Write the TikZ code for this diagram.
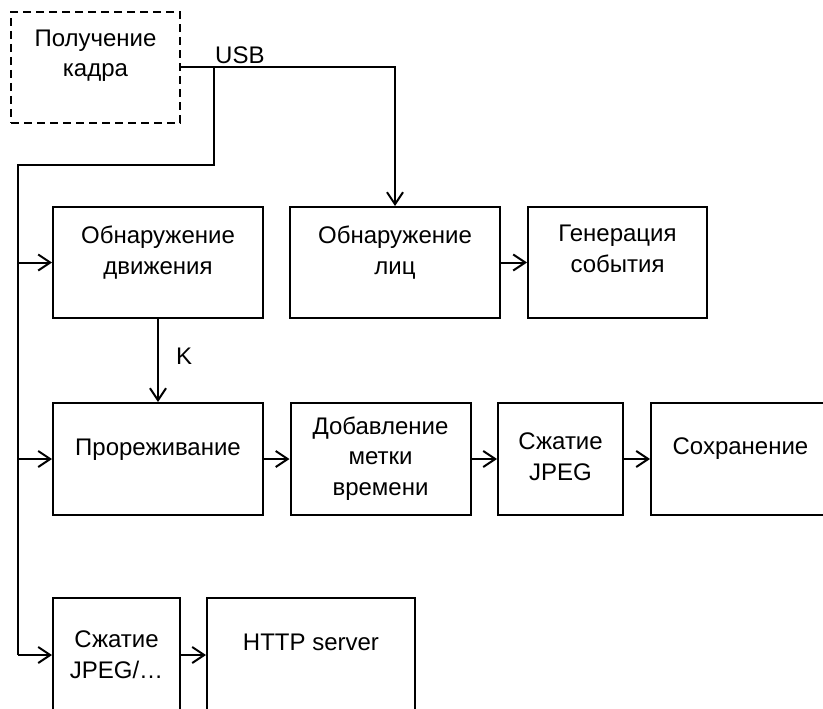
\documentclass[tikz,border=0pt]{standalone}
\usepackage{fontspec}
\setmainfont{Liberation Sans}
\usetikzlibrary{arrows.meta}
\tikzstyle{block}=[draw,line width=2pt,inner sep=0pt,minimum height=112pt]
\tikzstyle{txt}=[align=center,anchor=base,inner sep=0pt,font=\fontsize{24}{30.5}\selectfont]
\tikzstyle{wire}=[line width=2pt,>={Straight Barb[length=12pt,width=16pt]}]

\begin{document}
\begin{tikzpicture}[x=1pt,y=-1pt]
\clip (0,0) rectangle (823,709);
\node[block,dashed,dash pattern=on 8pt off 5pt,minimum width=169pt,minimum height=111pt] at (95.5,67.5) (grab) {};
\node[block,minimum width=210pt,minimum height=111pt] at (158,262.5) (motion) {};
\node[block,minimum width=210pt,minimum height=111pt] at (395,262.5) (faces) {};
\node[block,minimum width=179pt,minimum height=111pt] at (617.5,262.5) (event) {};
\node[block,minimum width=210pt] at (158,459) (thin) {};
\node[block,minimum width=180pt] at (380.5,459) (stamp) {};
\node[block,minimum width=125pt] at (560.5,459) (jpeg) {};
\node[block,minimum width=179pt] at (740.5,459) (save) {};
\node[block,minimum width=127pt,minimum height=114pt] at (116.5,655) (jpegb) {};
\node[block,minimum width=208pt,minimum height=114pt] at (311,655) (http) {};
% texts (base = last line)
\node[txt] at (95.5,77) (grabtxt) {Получение\\кадра};
\node[txt] at (158,274) (motiontxt) {Обнаружение\\движения};
\node[txt] at (395,274) (facestxt) {Обнаружение\\лиц};
\node[txt] at (617.5,272) (eventtxt) {Генерация\\события};
\node[txt] at (158,455) (thintxt) {Прореживание};
\node[txt] at (380.5,495) (stamptxt) {Добавление\\метки\\времени};
\node[txt] at (560.5,480) (jpegtxt) {Сжатие\\JPEG};
\node[txt] at (740.5,454) (savetxt) {Сохранение};
\node[txt] at (116.5,678) (jpegbtxt) {Сжатие\\JPEG/…};
\node[txt] at (311,650) (httptxt) {HTTP server};
% wires
\coordinate (usb) at (214,67.5);
\coordinate (bend) at (18,165);
\draw[wire,->] (grab.east) -| (faces.north);
\node[txt,anchor=base west] at (215,64) (usbtxt) {USB};
\draw[wire] (usb) |- (bend) -- (bend |- jpegb.west);
\draw[wire,->] (bend |- motion.west) -- (motion.west);
\draw[wire,->] (bend |- thin.west) -- (thin.west);
\draw[wire,->] (bend |- jpegb.west) -- (jpegb.west);
\draw[wire,->] (motion.south) -- node[txt,anchor=west,xshift=17pt,yshift=4pt] {K} (thin.north);
\draw[wire,->] (faces.east) -- (event.west);
\draw[wire,->] (thin.east) -- (stamp.west);
\draw[wire,->] (stamp.east) -- (jpeg.west);
\draw[wire,->] (jpeg.east) -- (save.west);
\draw[wire,->] (jpegb.east) -- (http.west);
\end{tikzpicture}
\end{document}
